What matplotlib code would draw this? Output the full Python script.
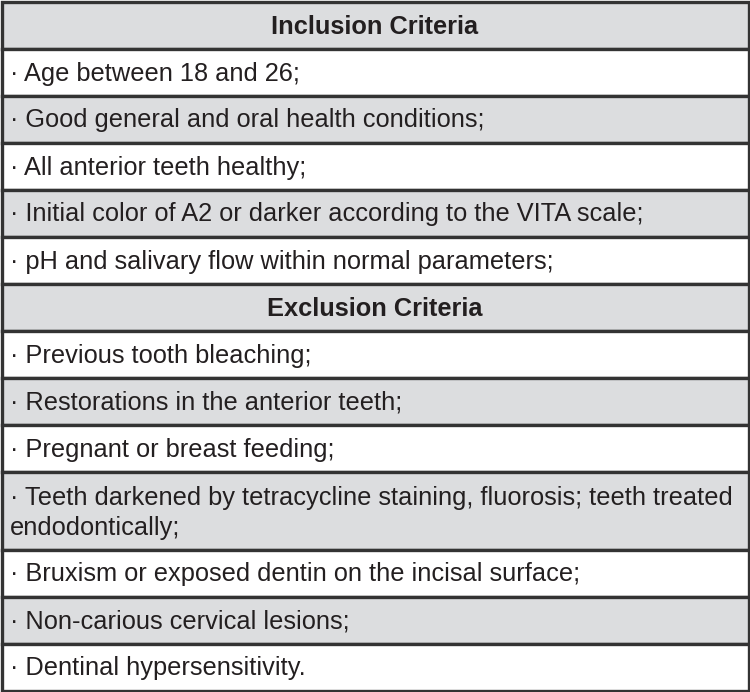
import matplotlib.pyplot as plt
from matplotlib.patches import Rectangle

plt.rcParams['font.family'] = ['Liberation Sans', 'DejaVu Sans']

# table content
inclusion_title = "Inclusion Criteria"
inclusion_items = [
    "· Age between 18 and 26;",
    "· Good general and oral health conditions;",
    "· All anterior teeth healthy;",
    "· Initial color of A2 or darker according to the VITA scale;",
    "· pH and salivary flow within normal parameters;",
]
exclusion_title = "Exclusion Criteria"
exclusion_items = [
    "· Previous tooth bleaching;",
    "· Restorations in the anterior teeth;",
    "· Pregnant or breast feeding;",
    "· Teeth darkened by tetracycline staining, fluorosis; teeth treated\nendodontically;",
    "· Bruxism or exposed dentin on the incisal surface;",
    "· Non-carious cervical lesions;",
    "· Dentinal hypersensitivity.",
]

gray = "#dcdddf"
line_col = "#333333"
text_col = "#231f20"

rows = [(inclusion_title, True)] + [(t, False) for t in inclusion_items] \
     + [(exclusion_title, True)] + [(t, False) for t in exclusion_items]

fig = plt.figure(figsize=(7.5, 6.92), dpi=100)
ax = fig.add_axes([0, 0, 1, 1])
ax.set_xlim(0, 750)
ax.set_ylim(692, 0)
ax.axis("off")

fs = 18.3
row_h = 47.0
extra_line = 31.0
left, right = 1.5, 748.5
y = 1.5
shade = True
for text, is_header in rows:
    lines = text.split("\n")
    h = row_h + (len(lines) - 1) * extra_line
    if is_header:
        shade = True
    fc = gray if shade else "white"
    ax.add_patch(Rectangle((left, y), right - left, h, facecolor=fc,
                           edgecolor=line_col, linewidth=2.4))
    if is_header:
        ax.text(375, y + 32, text, ha="center", va="baseline",
                fontsize=fs, fontweight="bold", color=text_col)
    else:
        base = y + 32 + (len(lines) - 1) * 1.5
        for i, ln in enumerate(lines):
            ax.text(10, base + i * 30, ln, ha="left", va="baseline",
                    fontsize=fs, color=text_col)
    shade = not shade
    y += h

fig.savefig("out.png", dpi=100)
